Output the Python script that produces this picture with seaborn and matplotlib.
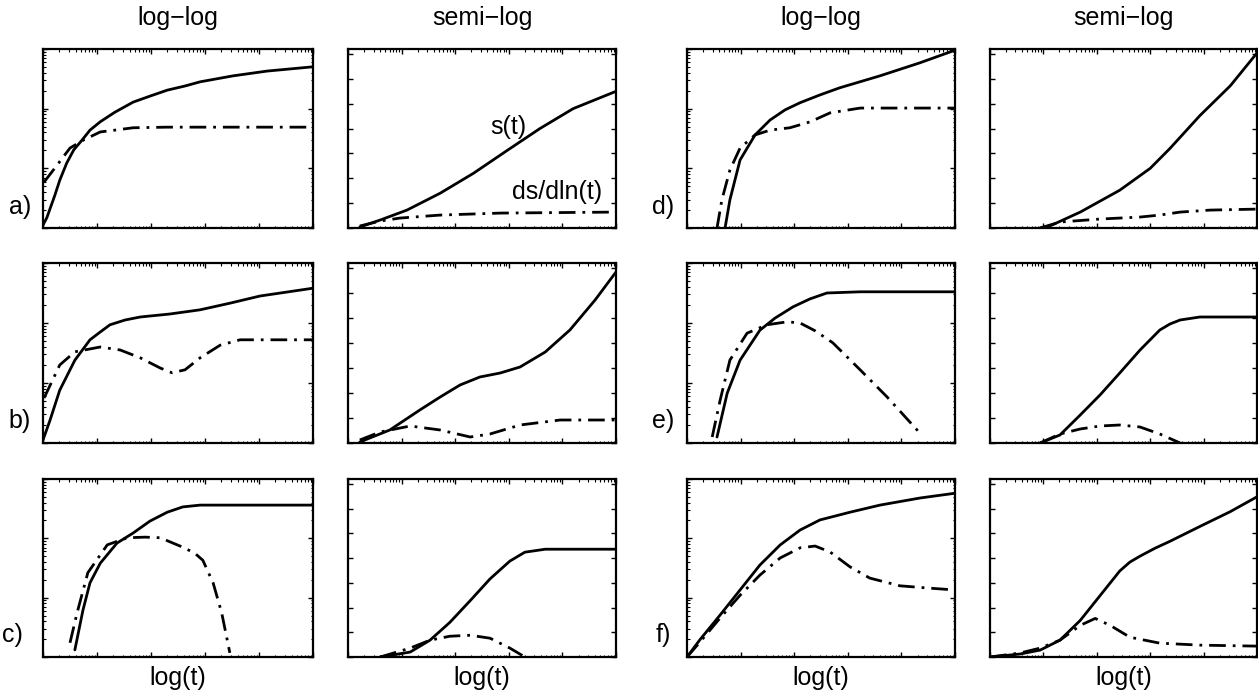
import numpy as np
import pandas as pd
import seaborn as sns
import matplotlib.pyplot as plt
from matplotlib.ticker import LogLocator, MultipleLocator, NullFormatter

###############################
######### data ################
###############################
# x values are log10(t) in decades (axis spans 0..5)
# log-log panels: y values are log10(s) (axis spans 0..3 decades)
# semi-log panels: y values are linear (axis spans 0..7.2)

## a) log-log
a_ll_s_x = [0, 0.07, 0.22, 0.31, 0.44, 0.57, 0.72, 0.87, 1.06, 1.33, 1.67, 1.98, 2.30, 2.63, 2.91, 3.52, 4.15, 4.98]
a_ll_s_y = [0.05, 0.17, 0.55, 0.80, 1.09, 1.31, 1.47, 1.64, 1.78, 1.94, 2.11, 2.21, 2.31, 2.38, 2.45, 2.55, 2.63, 2.70]
a_ll_d_x = [0.02, 0.19, 0.50, 0.74, 1.06, 1.33, 1.67, 2.30, 4.98]
a_ll_d_y = [0.77, 0.97, 1.34, 1.47, 1.61, 1.64, 1.68, 1.69, 1.69]
## a) semi-log
a_sl_s_x = [0.22, 0.60, 1.10, 1.72, 2.34, 2.97, 3.58, 4.20, 4.98]
a_sl_s_y = [0.04, 0.32, 0.72, 1.40, 2.20, 3.12, 4.00, 4.80, 5.48]
a_sl_d_x = [0.22, 0.60, 0.97, 1.72, 2.84, 4.98]
a_sl_d_y = [0.08, 0.28, 0.40, 0.52, 0.60, 0.64]

## b) log-log
b_ll_s_x = [0, 0.13, 0.31, 0.59, 0.87, 1.06, 1.24, 1.52, 1.80, 2.35, 2.91, 3.46, 4.02, 5.0]
b_ll_s_y = [0.05, 0.38, 0.88, 1.38, 1.72, 1.85, 1.97, 2.05, 2.10, 2.15, 2.22, 2.33, 2.45, 2.58]
b_ll_d_x = [0.02, 0.31, 0.59, 1.06, 1.43, 1.80, 2.17, 2.39, 2.63, 2.91, 3.28, 3.65, 5.0]
b_ll_d_y = [0.75, 1.30, 1.52, 1.60, 1.55, 1.42, 1.25, 1.17, 1.22, 1.42, 1.63, 1.72, 1.72]
## b) semi-log
b_sl_s_x = [0.22, 0.78, 1.34, 1.72, 2.09, 2.46, 2.84, 3.21, 3.68, 4.14, 4.61, 5.0]
b_sl_s_y = [0.04, 0.52, 1.32, 1.84, 2.32, 2.64, 2.80, 3.04, 3.64, 4.52, 5.72, 6.84]
b_sl_d_x = [0.22, 0.60, 1.16, 1.72, 2.28, 2.65, 3.21, 3.96, 5.0]
b_sl_d_y = [0.12, 0.44, 0.68, 0.52, 0.24, 0.36, 0.72, 0.92, 0.92]

## c) log-log
c_ll_s_x = [0.59, 0.74, 0.87, 1.06, 1.37, 1.67, 1.98, 2.30, 2.59, 2.91, 5.0]
c_ll_s_y = [0.12, 0.79, 1.25, 1.58, 1.92, 2.09, 2.29, 2.44, 2.53, 2.56, 2.56]
c_ll_d_x = [0.50, 0.63, 0.83, 1.19, 1.56, 1.89, 2.17, 2.59, 2.81, 2.96, 3.15, 3.31, 3.46]
c_ll_d_y = [0.24, 0.74, 1.42, 1.89, 2.01, 2.02, 2.01, 1.85, 1.75, 1.63, 1.25, 0.74, 0.07]
## c) semi-log
c_sl_s_x = [0.60, 1.16, 1.53, 1.90, 2.28, 2.65, 3.02, 3.30, 3.68, 5.0]
c_sl_s_y = [0.0, 0.20, 0.68, 1.40, 2.28, 3.16, 3.88, 4.24, 4.36, 4.36]
c_sl_d_x = [0.60, 1.16, 1.53, 1.90, 2.28, 2.65, 3.02, 3.30]
c_sl_d_y = [0.0, 0.36, 0.68, 0.84, 0.88, 0.76, 0.36, 0.0]

## d) log-log
d_ll_s_x = [0.71, 0.80, 0.99, 1.27, 1.55, 1.83, 2.11, 2.48, 2.85, 3.60, 4.35, 5.0]
d_ll_s_y = [0.0, 0.47, 1.14, 1.56, 1.81, 1.98, 2.10, 2.23, 2.35, 2.55, 2.77, 2.98]
d_ll_d_x = [0.56, 0.65, 0.80, 0.99, 1.27, 1.55, 1.92, 2.30, 2.67, 3.23, 5.0]
d_ll_d_y = [0.0, 0.47, 0.97, 1.34, 1.56, 1.64, 1.68, 1.78, 1.93, 2.01, 2.01]
## d) semi-log
d_sl_s_x = [0.94, 1.12, 1.69, 2.43, 3.00, 3.37, 3.93, 4.50, 5.0]
d_sl_s_y = [0.0, 0.08, 0.64, 1.52, 2.40, 3.20, 4.52, 5.72, 7.04]
d_sl_d_x = [0.94, 1.31, 2.06, 2.81, 3.18, 3.56, 4.12, 5.0]
d_sl_d_y = [0.0, 0.24, 0.36, 0.44, 0.52, 0.64, 0.72, 0.76]

## e) log-log
e_ll_s_x = [0.56, 0.75, 0.99, 1.36, 1.64, 1.98, 2.29, 2.61, 3.23, 5.0]
e_ll_s_y = [0.10, 0.83, 1.38, 1.88, 2.08, 2.27, 2.40, 2.50, 2.52, 2.52]
e_ll_d_x = [0.47, 0.62, 0.80, 1.12, 1.49, 1.87, 2.11, 2.39, 2.72, 3.23, 3.73, 4.29, 4.35]
e_ll_d_y = [0.10, 0.72, 1.38, 1.83, 1.97, 2.02, 2.00, 1.87, 1.67, 1.22, 0.77, 0.22, 0.13]
## e) semi-log
e_sl_s_x = [0.94, 1.31, 1.69, 2.06, 2.43, 2.81, 3.18, 3.37, 3.56, 3.93, 5.0]
e_sl_s_y = [0.0, 0.32, 1.12, 1.92, 2.80, 3.72, 4.52, 4.76, 4.92, 5.04, 5.04]
e_sl_d_x = [0.94, 1.31, 1.69, 2.06, 2.43, 2.81, 3.18, 3.56]
e_sl_d_y = [0.0, 0.36, 0.56, 0.68, 0.72, 0.64, 0.36, 0.0]

## f) log-log
f_ll_s_x = [0, 0.24, 0.62, 0.99, 1.36, 1.74, 2.11, 2.48, 3.04, 3.60, 4.35, 5.0]
f_ll_s_y = [0, 0.29, 0.71, 1.13, 1.55, 1.89, 2.14, 2.31, 2.44, 2.56, 2.68, 2.76]
f_ll_d_x = [0, 0.24, 0.62, 0.99, 1.36, 1.74, 2.11, 2.39, 2.67, 3.04, 3.41, 3.97, 4.53, 5.0]
f_ll_d_y = [0, 0.25, 0.66, 1.04, 1.38, 1.67, 1.84, 1.87, 1.77, 1.52, 1.33, 1.20, 1.16, 1.13]
## f) semi-log
f_sl_s_x = [0, 0.56, 0.94, 1.31, 1.69, 2.06, 2.43, 2.62, 2.81, 3.09, 3.37, 3.93, 4.50, 5.0]
f_sl_s_y = [0, 0.12, 0.28, 0.68, 1.48, 2.48, 3.48, 3.84, 4.08, 4.40, 4.68, 5.28, 5.88, 6.48]
f_sl_d_x = [0, 0.56, 0.94, 1.31, 1.69, 1.97, 2.25, 2.62, 3.18, 3.93, 5.0]
f_sl_d_y = [0, 0.16, 0.36, 0.68, 1.28, 1.56, 1.28, 0.80, 0.56, 0.48, 0.44]

panel_labels = ['a)', 'b)', 'c)', 'd)', 'e)', 'f)']
col_titles = ['log\u2212log', 'semi\u2212log', 'log\u2212log', 'semi\u2212log']
xlabel = 'log(t)'

panels = {
    'a': [(a_ll_s_x, a_ll_s_y, a_ll_d_x, a_ll_d_y), (a_sl_s_x, a_sl_s_y, a_sl_d_x, a_sl_d_y)],
    'b': [(b_ll_s_x, b_ll_s_y, b_ll_d_x, b_ll_d_y), (b_sl_s_x, b_sl_s_y, b_sl_d_x, b_sl_d_y)],
    'c': [(c_ll_s_x, c_ll_s_y, c_ll_d_x, c_ll_d_y), (c_sl_s_x, c_sl_s_y, c_sl_d_x, c_sl_d_y)],
    'd': [(d_ll_s_x, d_ll_s_y, d_ll_d_x, d_ll_d_y), (d_sl_s_x, d_sl_s_y, d_sl_d_x, d_sl_d_y)],
    'e': [(e_ll_s_x, e_ll_s_y, e_ll_d_x, e_ll_d_y), (e_sl_s_x, e_sl_s_y, e_sl_d_x, e_sl_d_y)],
    'f': [(f_ll_s_x, f_ll_s_y, f_ll_d_x, f_ll_d_y), (f_sl_s_x, f_sl_s_y, f_sl_d_x, f_sl_d_y)],
}

##############################
######## plot ################
##############################
sns.set_style('ticks')
plt.rcParams['font.family'] = ['Liberation Sans', 'DejaVu Sans']
plt.rcParams.update({
    'axes.linewidth': 1.6,
    'axes.edgecolor': 'black',
    'text.color': 'black',
    'xtick.color': 'black',
    'ytick.color': 'black',
    'xtick.direction': 'in',
    'ytick.direction': 'in',
    'xtick.top': True,
    'ytick.right': True,
})
fs = 18

W, H = 1258, 695
fig = plt.figure(figsize=(W / 100, H / 100), dpi=100)

col_left = [43, 348, 687, 990]
col_right = [313, 616, 955, 1257]
row_top = [49, 263, 479]
row_bot = [228, 443, 657]

lw = 2.0
dashdot = (6, 2.5, 1, 2.5)

for k, key in enumerate(['a', 'b', 'c', 'd', 'e', 'f']):
    row = k % 3
    half = k // 3
    for j in range(2):
        col = 2 * half + j
        l, r = col_left[col], col_right[col]
        t, b = row_top[row], row_bot[row]
        ax = fig.add_axes([l / W, 1 - b / H, (r - l) / W, (b - t) / H])
        sx, sy, dx, dy = panels[key][j]

        s_df = pd.DataFrame({'t': 10.0 ** np.array(sx), 'v': sy})
        d_df = pd.DataFrame({'t': 10.0 ** np.array(dx), 'v': dy})
        if j == 0:
            s_df['v'] = 10.0 ** s_df['v']
            d_df['v'] = 10.0 ** d_df['v']

        sns.lineplot(data=s_df, x='t', y='v', color='black', lw=lw, sort=False,
                     estimator=None, ax=ax)
        sns.lineplot(data=d_df, x='t', y='v', color='black', lw=lw, sort=False,
                     estimator=None, ax=ax)
        ax.lines[-1].set_dashes(dashdot)
        ax.lines[-1].set_dash_capstyle('butt')
        for ln in ax.lines:
            ln.set_solid_joinstyle('round')

        ax.set_xscale('log')
        ax.set_xlim(1, 1e5)
        ax.xaxis.set_major_locator(LogLocator(base=10, numticks=10))
        ax.xaxis.set_minor_locator(LogLocator(base=10, subs=np.arange(2, 10), numticks=20))
        if j == 0:
            ax.set_yscale('log')
            ax.set_ylim(1, 1e3)
            ax.yaxis.set_major_locator(LogLocator(base=10, numticks=10))
            ax.yaxis.set_minor_locator(LogLocator(base=10, subs=np.arange(2, 10), numticks=20))
        else:
            ax.set_ylim(0, 7.2)
            ax.yaxis.set_major_locator(MultipleLocator(1))
        ax.tick_params(which='major', length=3.5, width=1.0)
        ax.tick_params(which='minor', length=1.8, width=0.8)
        ax.xaxis.set_major_formatter(NullFormatter())
        ax.xaxis.set_minor_formatter(NullFormatter())
        ax.yaxis.set_major_formatter(NullFormatter())
        ax.yaxis.set_minor_formatter(NullFormatter())
        ax.set_xlabel('')
        ax.set_ylabel('')

        if key == 'a' and j == 1:
            ax.text(10 ** 3.0, 4.05, 's(t)', fontsize=fs, ha='center', va='center')
            ax.text(10 ** 3.9, 1.45, 'ds/dln(t)', fontsize=fs, ha='center', va='center')

        if row == 0:
            fig.text((l + r) / 2 / W, 1 - 18 / H, col_titles[col], fontsize=fs,
                     ha='center', va='center')
        if row == 2:
            fig.text((l + r) / 2 / W, 1 - 678 / H, xlabel, fontsize=fs,
                     ha='center', va='center')

    if half == 0:
        lab_x = 12 if row == 2 else 20
    else:
        lab_x = 663
    lab_y = [207, 421, 635][row]
    fig.text(lab_x / W, 1 - lab_y / H, panel_labels[k], fontsize=fs,
             ha='center', va='center')

fig.savefig('out.png', dpi=100)
